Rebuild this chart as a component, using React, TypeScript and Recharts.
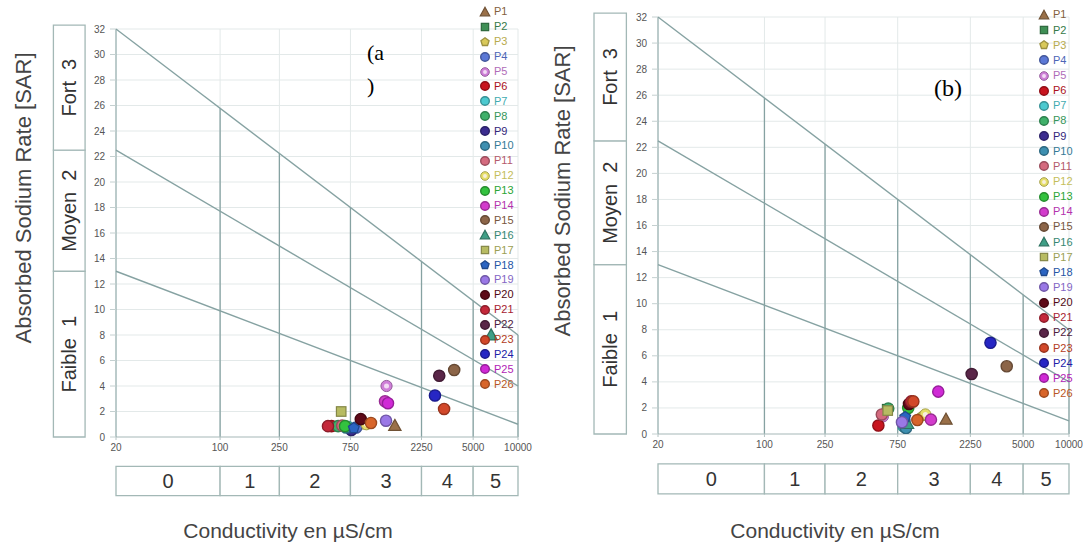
import React from 'react';
import {
  ScatterChart,
  Scatter,
  XAxis,
  YAxis,
  CartesianGrid,
  ReferenceLine,
  ReferenceArea,
  Legend,
} from 'recharts';

// ---------- data ----------
const SERIES = [
  'P1', 'P2', 'P3', 'P4', 'P5', 'P6', 'P7', 'P8', 'P9', 'P10', 'P11', 'P12', 'P13',
  'P14', 'P15', 'P16', 'P17', 'P18', 'P19', 'P20', 'P21', 'P22', 'P23', 'P24', 'P25', 'P26',
];
const MARKERS = [
  'triangle', 'square', 'pentagon', 'circle', 'hollow', 'circle', 'circle', 'circle', 'circle',
  'circle', 'circle', 'hollow', 'circle', 'circle', 'circle', 'triangle', 'square', 'pentagon',
  'circle', 'circle', 'circle', 'circle', 'circle', 'circle', 'circle', 'circle',
];
const COLORS = [
  '#9a7048', '#3f8f55', '#d9c95a', '#5b78d6', '#cf7fd8', '#c8141e', '#4cc9cf', '#3fb06a',
  '#3b2c8f', '#3d8fb0', '#d46a7e', '#e6df6a', '#33c23f', '#d33ccc', '#8c6548', '#3e9f86',
  '#b7bb62', '#2a64c2', '#9a78e6', '#5e0a18', '#c4283a', '#5a2648', '#d2482a', '#2626c4',
  '#d02ad6', '#d8652a',
];

// panel (a)
const EC_A = [1490, 600, 920, 820, 1310, 560, 720, 620, 760, 700, 660, 960, 690, 1280, 3730, 6600, 650, 790, 1300, 880, 530, 2960, 3190, 2770, 1340, 1030];
const SAR_A = [0.9, 0.85, 1.0, 0.75, 4.0, 0.85, 0.8, 0.85, 0.55, 0.75, 0.9, 1.0, 0.85, 2.8, 5.25, 8.0, 2.0, 0.7, 1.28, 1.4, 0.85, 4.8, 2.2, 3.25, 2.65, 1.1];
// panel (b)
const EC_B = [1556, 640, 1100, 830, 600, 560, 820, 650, 820, 850, 590, 1140, 880, 1240, 3900, 870, 645, 840, 800, 890, 920, 2295, 950, 3050, 1385, 1010];
const SAR_B = [1.13, 1.9, 1.4, 1.0, 1.35, 0.65, 0.6, 1.95, 0.8, 0.45, 1.5, 1.5, 2.0, 1.1, 5.2, 0.8, 1.8, 1.3, 0.9, 2.3, 2.5, 4.6, 2.5, 7.0, 3.25, 1.07];

const X_TICKS = [20, 100, 250, 750, 2250, 5000, 10000];
const Y_TICKS = [0, 2, 4, 6, 8, 10, 12, 14, 16, 18, 20, 22, 24, 26, 28, 30, 32];

const SALINITY_BOUNDS = [20, 100, 250, 750, 2250, 5000, 10000];
const SALINITY_LABELS = ['0', '1', '2', '3', '4', '5'];
const SODIUM_BOUNDS = [0, 13, 22.5, 32];
const SODIUM_LABELS = ['Faible\u00a0\u00a01', 'Moyen\u00a0\u00a02', 'Fort\u00a0\u00a03'];

// boundary lines: SAR at EC=20 and at EC=10000
const LINE_START = [32, 22.5, 13];
const LINE_END = [8, 4, 1];

// ---------- style helpers ----------
const FONT = '"Liberation Sans", Arial, Helvetica, sans-serif';
const LINE_COLOR = '#86a2a2';
const BOX_COLOR = '#a3b8b6';
const GRID_COLOR = '#e3e9e9';

function darken(hex: string, k: number) {
  const n = parseInt(hex.slice(1), 16);
  const r = Math.round(((n >> 16) & 255) * k);
  const g = Math.round(((n >> 8) & 255) * k);
  const b = Math.round((n & 255) * k);
  return `rgb(${r},${g},${b})`;
}

function drawMarker(kind: string, color: string, cx: number, cy: number, r: number) {
  const stroke = darken(color, 0.72);
  if (kind === 'triangle') {
    const h = r * 1.1;
    const pts = `${cx},${cy - h} ${cx + h},${cy + h * 0.8} ${cx - h},${cy + h * 0.8}`;
    return <polygon points={pts} fill={color} stroke={stroke} strokeWidth={1.2} />;
  }
  if (kind === 'square') {
    const s = r * 0.85;
    return <rect x={cx - s} y={cy - s} width={2 * s} height={2 * s} fill={color} stroke={stroke} strokeWidth={1.2} />;
  }
  if (kind === 'pentagon') {
    const pts = [0, 1, 2, 3, 4]
      .map((k) => {
        const a = (-90 + k * 72) * (Math.PI / 180);
        return `${cx + r * Math.cos(a)},${cy + r * Math.sin(a)}`;
      })
      .join(' ');
    return <polygon points={pts} fill={color} stroke={stroke} strokeWidth={1.3} />;
  }
  if (kind === 'hollow') {
    return (
      <g>
        <circle cx={cx} cy={cy} r={r} fill={color} stroke={stroke} strokeWidth={1} />
        <circle cx={cx} cy={cy} r={r * 0.45} fill="#fbf3fb" opacity={0.8} />
      </g>
    );
  }
  return <circle cx={cx} cy={cy} r={r} fill={color} stroke={stroke} strokeWidth={1.4} />;
}

const makeShape = (kind: string, color: string) => (props: any) => {
  const { cx, cy } = props;
  if (cx == null || cy == null || isNaN(cx) || isNaN(cy)) return <g />;
  return drawMarker(kind, color, cx, cy, 5.6);
};

function topLineAt(ec: number) {
  const t = (Math.log10(ec) - Math.log10(20)) / (Math.log10(10000) - Math.log10(20));
  return LINE_START[0] + (LINE_END[0] - LINE_START[0]) * t;
}

type PanelProps = {
  left: number;
  width: number;
  plot: { left: number; right: number; top: number; bottom: number };
  ec: number[];
  sar: number[];
  legendPos: { left: number; top: number; rowH: number };
};

const LegendList = ({ payload, rowH }: { payload: any[]; rowH: number }) => {
  const names: string[] =
    payload && payload.length
      ? payload.map((p: any) => p.value).sort((a: string, b: string) => SERIES.indexOf(a) - SERIES.indexOf(b))
      : SERIES;
  return (
    <div style={{ fontFamily: FONT, fontSize: 11 }}>
      {names.map((name: string) => {
        const i = SERIES.indexOf(name);
        return (
          <div key={name} style={{ height: rowH, display: 'flex', alignItems: 'center', whiteSpace: 'nowrap' }}>
            <svg width={10} height={10} style={{ overflow: 'visible', flex: 'none' }}>
              {drawMarker(MARKERS[i], COLORS[i], 5, 5, 4.3)}
            </svg>
            <span style={{ marginLeft: 4, color: darken(COLORS[i], 0.85), lineHeight: 1 }}>{name}</span>
          </div>
        );
      })}
    </div>
  );
};

const XH = 20;
const YW = 30;

function Panel({ left, width, plot, ec, sar, legendPos }: PanelProps) {
  const H = 546;
  const series = SERIES.map((name, i) => ({ name, i, data: [{ ec: ec[i], sar: sar[i] }] }));
  return (
    <div style={{ position: 'absolute', left, top: 0, width, height: H }}>
      <ScatterChart
        width={width}
        height={H}
        margin={{ top: plot.top, right: width - plot.right, bottom: H - plot.bottom - XH, left: plot.left - YW }}
      >
        <CartesianGrid stroke={GRID_COLOR} />
        <XAxis
          type="number"
          dataKey="ec"
          scale="log"
          domain={[20, 10000]}
          ticks={X_TICKS}
          interval={0}
          allowDataOverflow
          height={XH}
          tickSize={3}
          tickMargin={4}
          tick={{ fontSize: 10, fill: '#555' }}
          axisLine={{ stroke: '#b3c2c2' }}
          tickLine={{ stroke: '#b3c2c2' }}
        />
        <YAxis
          type="number"
          dataKey="sar"
          domain={[0, 32]}
          ticks={Y_TICKS}
          interval={0}
          allowDataOverflow
          width={YW}
          tickSize={6}
          tickMargin={5}
          tick={{ fontSize: 10, fill: '#555' }}
          axisLine={{ stroke: LINE_COLOR }}
          tickLine={{ stroke: '#c4d0d0' }}
        />
        {SODIUM_LABELS.map((lab, k) => (
          <ReferenceArea
            key={'sod' + k}
            x1={7.6}
            x2={12.4}
            y1={SODIUM_BOUNDS[k]}
            y2={k === SODIUM_LABELS.length - 1 ? 32.3 : SODIUM_BOUNDS[k + 1]}
            ifOverflow="visible"
            fill="#ffffff"
            fillOpacity={1}
            stroke={BOX_COLOR}
            strokeWidth={1.3}
            label={{ value: lab, angle: -90, position: 'center', fill: '#333', fontSize: 20 }}
          />
        ))}
        {SALINITY_LABELS.map((lab, k) => (
          <ReferenceArea
            key={'sal' + k}
            x1={SALINITY_BOUNDS[k]}
            x2={SALINITY_BOUNDS[k + 1]}
            y1={-2.3}
            y2={-4.6}
            ifOverflow="visible"
            fill="#ffffff"
            fillOpacity={1}
            stroke={BOX_COLOR}
            strokeWidth={1.3}
            label={{ value: lab, position: 'center', fill: '#333', fontSize: 20 }}
          />
        ))}
        {SALINITY_BOUNDS.slice(1).map((t) => (
          <ReferenceLine
            key={'v' + t}
            segment={[{ x: t, y: 0 }, { x: t, y: topLineAt(t) }]}
            stroke={LINE_COLOR}
            strokeWidth={1.3}
            ifOverflow="visible"
          />
        ))}
        {LINE_START.map((s, k) => (
          <ReferenceLine
            key={'d' + k}
            segment={[{ x: 20, y: s }, { x: 10000, y: LINE_END[k] }]}
            stroke={LINE_COLOR}
            strokeWidth={1.4}
            ifOverflow="visible"
          />
        ))}
        {series.map((s) => (
          <Scatter
            key={s.name}
            name={s.name}
            data={s.data}
            fill={COLORS[s.i]}
            shape={makeShape(MARKERS[s.i], COLORS[s.i])}
            isAnimationActive={false}
          />
        ))}
        <Legend
          layout="horizontal"
          verticalAlign="middle"
          align="center"
          wrapperStyle={{ left: legendPos.left, top: legendPos.top, width: 44, height: 'auto' }}
          content={(p: any) => <LegendList payload={p.payload} rowH={legendPos.rowH} />}
        />
      </ScatterChart>
    </div>
  );
}

const abs = (style: React.CSSProperties): React.CSSProperties => ({ position: 'absolute', whiteSpace: 'nowrap', ...style });

export default function App() {
  return (
    <div style={{ position: 'absolute', left: 0, top: 0, width: 1083, height: 546, background: '#fff', fontFamily: FONT, overflow: 'hidden' }}>
      <Panel
        left={0}
        width={540}
        plot={{ left: 116, right: 518, top: 29, bottom: 437 }}
        ec={EC_A}
        sar={SAR_A}
        legendPos={{ left: 480, top: 4.5, rowH: 14.9 }}
      />
      <Panel
        left={540}
        width={543}
        plot={{ left: 118, right: 529, top: 17, bottom: 434 }}
        ec={EC_B}
        sar={SAR_B}
        legendPos={{ left: 499, top: 7.4, rowH: 15.15 }}
      />
      {/* axis titles */}
      <div style={abs({ left: 24, top: 198, transform: 'translate(-50%, -50%) rotate(-90deg)', fontSize: 22, color: '#444' })}>
        Absorbed Sodium Rate [SAR]
      </div>
      <div style={abs({ left: 563, top: 191, transform: 'translate(-50%, -50%) rotate(-90deg)', fontSize: 22, color: '#444' })}>
        Absorbed Sodium Rate [SAR]
      </div>
      <div style={abs({ left: 288, top: 531, transform: 'translate(-50%, -50%)', fontSize: 21, color: '#444' })}>
        Conductivity en µS/cm
      </div>
      <div style={abs({ left: 835, top: 531, transform: 'translate(-50%, -50%)', fontSize: 21, color: '#444' })}>
        Conductivity en µS/cm
      </div>
      {/* panel tags */}
      <div style={abs({ left: 367, top: 36, fontFamily: '"Liberation Serif", "Times New Roman", serif', fontSize: 22, color: '#000', lineHeight: '33px' })}>
        (a
        <br />)
      </div>
      <div style={abs({ left: 934, top: 74, fontFamily: '"Liberation Serif", "Times New Roman", serif', fontSize: 24, color: '#000', lineHeight: '28px' })}>
        (b)
      </div>
    </div>
  );
}
